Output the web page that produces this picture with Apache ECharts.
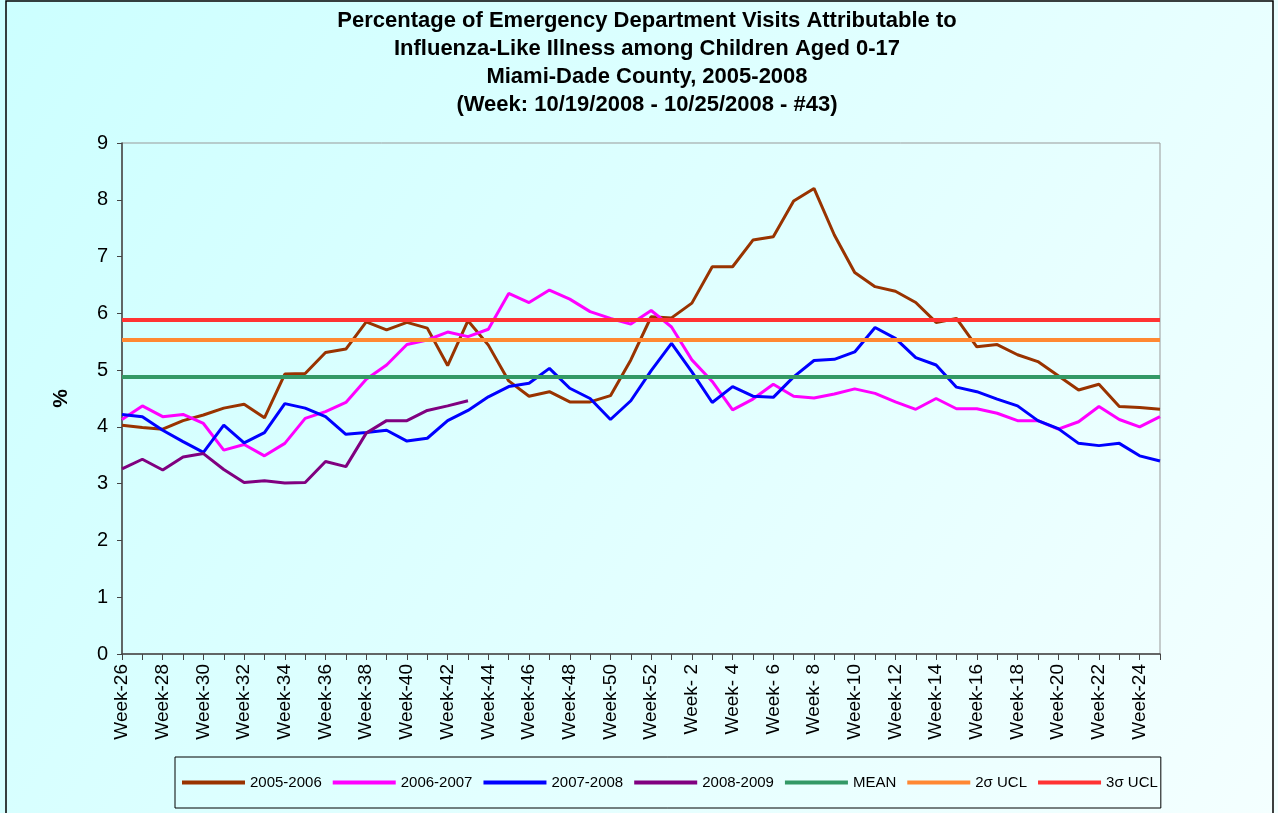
<!DOCTYPE html>
<html>
<head>
<meta charset="utf-8">
<script src="https://cdn.jsdelivr.net/npm/echarts@6/dist/echarts.min.js"></script>
<style>
  html, body { margin: 0; padding: 0; background: #f0ffff; }
  #chart { width: 1278px; height: 813px; }
</style>
</head>
<body>
<div id="chart"></div>
<script>
// week labels: Week-26 .. Week-52, then Week- 1 .. Week-25
const weeks = [
  'Week-26', 'Week-27', 'Week-28', 'Week-29', 'Week-30', 'Week-31', 'Week-32', 'Week-33', 'Week-34',
  'Week-35', 'Week-36', 'Week-37', 'Week-38', 'Week-39', 'Week-40', 'Week-41', 'Week-42', 'Week-43',
  'Week-44', 'Week-45', 'Week-46', 'Week-47', 'Week-48', 'Week-49', 'Week-50', 'Week-51', 'Week-52',
  'Week- 1', 'Week- 2', 'Week- 3', 'Week- 4', 'Week- 5', 'Week- 6', 'Week- 7', 'Week- 8', 'Week- 9',
  'Week-10', 'Week-11', 'Week-12', 'Week-13', 'Week-14', 'Week-15', 'Week-16', 'Week-17', 'Week-18',
  'Week-19', 'Week-20', 'Week-21', 'Week-22', 'Week-23', 'Week-24', 'Week-25'
]

const s2005 = [4.03, 3.99, 3.96, 4.11, 4.21, 4.33, 4.40, 4.16, 4.93, 4.94,
  5.31, 5.37, 5.85, 5.71, 5.84, 5.74, 5.08, 5.87, 5.44, 4.81,
  4.54, 4.62, 4.44, 4.44, 4.55, 5.18, 5.94, 5.92, 6.18, 6.82,
  6.82, 7.29, 7.35, 7.98, 8.20, 7.38, 6.72, 6.47, 6.39, 6.19,
  5.84, 5.91, 5.41, 5.45, 5.27, 5.15, 4.90, 4.65, 4.75, 4.36,
  4.34, 4.31]
const s2006 = [4.13, 4.37, 4.18, 4.22, 4.06, 3.59, 3.69, 3.49, 3.71, 4.15,
  4.27, 4.43, 4.84, 5.09, 5.45, 5.53, 5.67, 5.59, 5.72, 6.35,
  6.19, 6.41, 6.25, 6.03, 5.91, 5.81, 6.05, 5.76, 5.18, 4.80,
  4.30, 4.49, 4.75, 4.54, 4.51, 4.58, 4.67, 4.59, 4.44, 4.31,
  4.50, 4.32, 4.32, 4.24, 4.11, 4.11, 3.96, 4.09, 4.36, 4.13,
  4.00, 4.18]
const s2007 = [4.22, 4.18, 3.94, 3.74, 3.55, 4.03, 3.72, 3.90, 4.41, 4.33,
  4.18, 3.87, 3.90, 3.94, 3.75, 3.80, 4.11, 4.29, 4.53, 4.71,
  4.77, 5.03, 4.68, 4.50, 4.13, 4.46, 4.99, 5.47, 4.97, 4.43,
  4.71, 4.54, 4.52, 4.88, 5.17, 5.19, 5.32, 5.75, 5.56, 5.22,
  5.09, 4.70, 4.62, 4.49, 4.37, 4.11, 3.97, 3.71, 3.67, 3.71,
  3.49, 3.40]
const s2008 = [3.26, 3.43, 3.24, 3.47, 3.53, 3.25, 3.02, 3.05, 3.01, 3.02,
  3.39, 3.30, 3.89, 4.11, 4.11, 4.29, 4.37, 4.46]

const MEAN = 4.88
const UCL2 = 5.54
const UCL3 = 5.88

const FONT = '"Liberation Sans", Arial, sans-serif'

const chart = echarts.init(document.getElementById('chart'))

function seasonLine(name, data, color) {
  return {
    name,
    type: 'line',
    data,
    symbol: 'none',
    color,
    lineStyle: { width: 3, color },
    z: 2,
  }
}

function limitLine(name, value, color) {
  return {
    name,
    type: 'line',
    data: [],
    symbol: 'none',
    color,
    lineStyle: { width: 4, color },
    markLine: {
      silent: true,
      symbol: 'none',
      label: { show: false },
      lineStyle: { type: 'solid', width: 4, color },
      data: [{ yAxis: value }],
      z: 5,
    },
  }
}

chart.setOption({
  backgroundColor: new echarts.graphic.LinearGradient(0, 0, 1, 1, [
    { offset: 0, color: '#ccffff' },
    { offset: 1, color: '#f4ffff' },
  ]),
  animation: false,
  textStyle: { fontFamily: FONT },
  title: {
    text: 'Percentage of Emergency Department Visits Attributable to\nInfluenza-Like Illness among Children Aged 0-17\nMiami-Dade County, 2005-2008\n(Week: 10/19/2008 - 10/25/2008 - #43)',
    left: 642,
    textAlign: 'center',
    top: 2,
    textStyle: { fontFamily: FONT, fontSize: 22, fontWeight: 'bold', color: '#000', lineHeight: 28 },
  },
  graphic: [
    {
      type: 'rect',
      shape: { x: 6, y: 1, width: 1267, height: 840 },
      style: { fill: 'none', stroke: '#000', lineWidth: 1.5 },
      silent: true,
    },
  ],
  legend: {
    left: 175,
    top: 757,
    icon: 'rect',
    itemWidth: 63,
    itemHeight: 4,
    itemGap: 11,
    padding: [18, 3, 18, 7],
    borderColor: '#000',
    borderWidth: 1,
    textStyle: { fontFamily: FONT, fontSize: 15, color: '#000' },
    data: ['2005-2006', '2006-2007', '2007-2008', '2008-2009', 'MEAN', '2σ UCL', '3σ UCL'],
  },
  grid: {
    left: 122,
    right: 118,
    top: 143,
    bottom: 159,
    show: true,
    borderColor: '#999',
    borderWidth: 1,
    backgroundColor: 'transparent',
  },
  xAxis: {
    type: 'category',
    data: weeks,
    boundaryGap: false,
    axisLine: { lineStyle: { color: '#444', width: 1.5 } },
    axisTick: { interval: 0, length: 6, lineStyle: { color: '#444' } },
    axisLabel: {
      interval: 1,
      rotate: 90,
      margin: 10,
      fontFamily: FONT,
      fontSize: 19,
      color: '#000',
    },
    splitLine: { show: false },
  },
  yAxis: {
    type: 'value',
    min: 0,
    max: 9,
    interval: 1,
    name: '%',
    nameLocation: 'middle',
    nameRotate: 90,
    nameGap: 50,
    nameTextStyle: { fontFamily: FONT, fontSize: 21, fontWeight: 'bold', color: '#000' },
    axisLine: { show: true, lineStyle: { color: '#444', width: 1.5 } },
    axisTick: { show: true, length: 5, lineStyle: { color: '#444' } },
    axisLabel: { margin: 14, fontFamily: FONT, fontSize: 20, color: '#000' },
    splitLine: { show: false },
  },
  series: [
    seasonLine('2005-2006', s2005, '#993300'),
    seasonLine('2006-2007', s2006, '#ff00ff'),
    seasonLine('2007-2008', s2007, '#0000ff'),
    seasonLine('2008-2009', s2008, '#800080'),
    limitLine('MEAN', MEAN, '#339966'),
    limitLine('2σ UCL', UCL2, '#ff8833'),
    limitLine('3σ UCL', UCL3, '#ff3333'),
  ],
})

window.addEventListener('resize', () => chart.resize())
</script>
</body>
</html>
